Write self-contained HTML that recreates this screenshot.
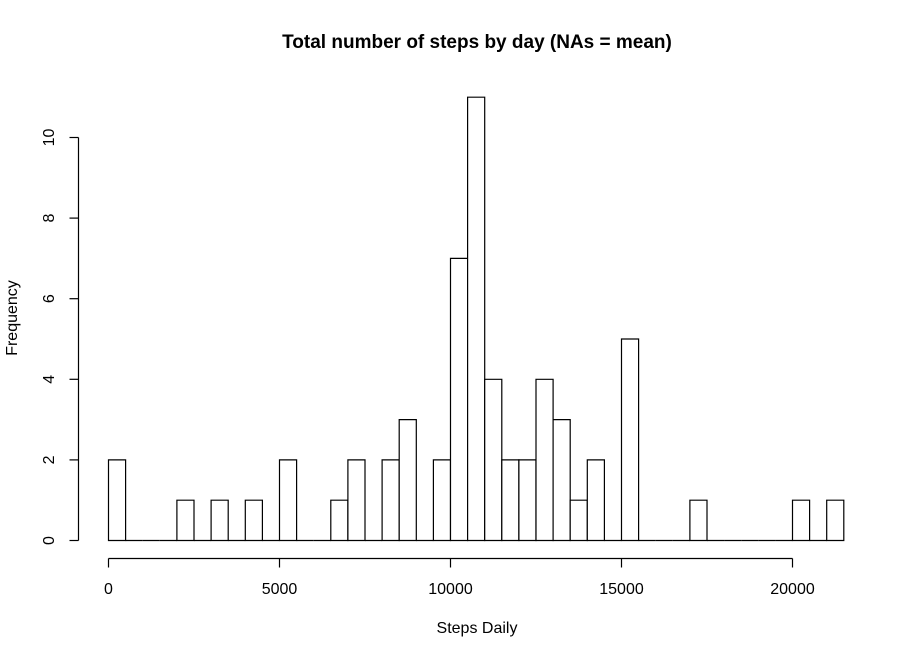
<!DOCTYPE html>
<html><head><meta charset="utf-8"><style>
body{margin:0;background:#fff;}
svg{display:block;font-family:"Liberation Sans",Arial,sans-serif;}
</style></head><body>
<svg id="chart" width="914" height="656" viewBox="0 0 914 656">
<text x="477" y="48" text-anchor="middle" font-size="19" font-weight="bold">Total number of steps by day (NAs = mean)</text>
<text x="477" y="633" text-anchor="middle" font-size="16">Steps Daily</text>
<text transform="translate(17,318) rotate(-90)" text-anchor="middle" font-size="16">Frequency</text>
<g id="bars"></g><g id="xaxis"></g><g id="yaxis"></g>
</svg>
<script>
const binWidth = 500;
const counts = [2,0,0,0,1,0,1,0,1,0,2,0,0,1,2,0,2,3,0,2,7,11,4,2,2,4,3,1,2,0,5,0,0,0,1,0,0,0,0,0,1,0,1];
const xTicks = [0,5000,10000,15000,20000];
const yTicks = [0,2,4,6,8,10];
const NS="http://www.w3.org/2000/svg";
const xs = v => 108.5 + v*(792.5-108.5)/20000;
const ys = v => 540.5 - v*(540.5-137.5)/10;
function mk(tag,attrs,parent){const e=document.createElementNS(NS,tag);for(const k in attrs)e.setAttribute(k,attrs[k]);parent.appendChild(e);return e;}
const bars=document.getElementById('bars');
counts.forEach((c,i)=>{
  const x0=xs(i*binWidth), x1=xs((i+1)*binWidth), y0=ys(0), y1=ys(c);
  const r=mk('path',{d:`M${x0},${y0}L${x0},${y1}L${x1},${y1}L${x1},${y0}Z`,fill:'#fff',stroke:'#000','stroke-width':1.2},bars);
  
  
});
const xa=document.getElementById('xaxis');
const xl=mk('line',{x1:xs(xTicks[0]),x2:xs(xTicks[xTicks.length-1]),y1:558.5,y2:558.5,stroke:'#000','stroke-width':1.2},xa);


xTicks.forEach(t=>{
  mk('line',{x1:xs(t),x2:xs(t),y1:558.5,y2:567.5,stroke:'#000','stroke-width':1.2},xa);
  const tx=mk('text',{x:xs(t),y:594,'text-anchor':'middle','font-size':16},xa);
  tx.textContent=t;
  
  
});
const ya=document.getElementById('yaxis');
const yl=mk('line',{x1:78.5,x2:78.5,y1:ys(yTicks[0]),y2:ys(yTicks[yTicks.length-1]),stroke:'#000','stroke-width':1.2},ya);


yTicks.forEach(t=>{
  mk('line',{x1:69.5,x2:78.5,y1:ys(t),y2:ys(t),stroke:'#000','stroke-width':1.2},ya);
  const tx=mk('text',{transform:`translate(54,${ys(t)}) rotate(-90)`,'text-anchor':'middle','font-size':16},ya);
  tx.textContent=t;
  
  
});
</script>
</body></html>
